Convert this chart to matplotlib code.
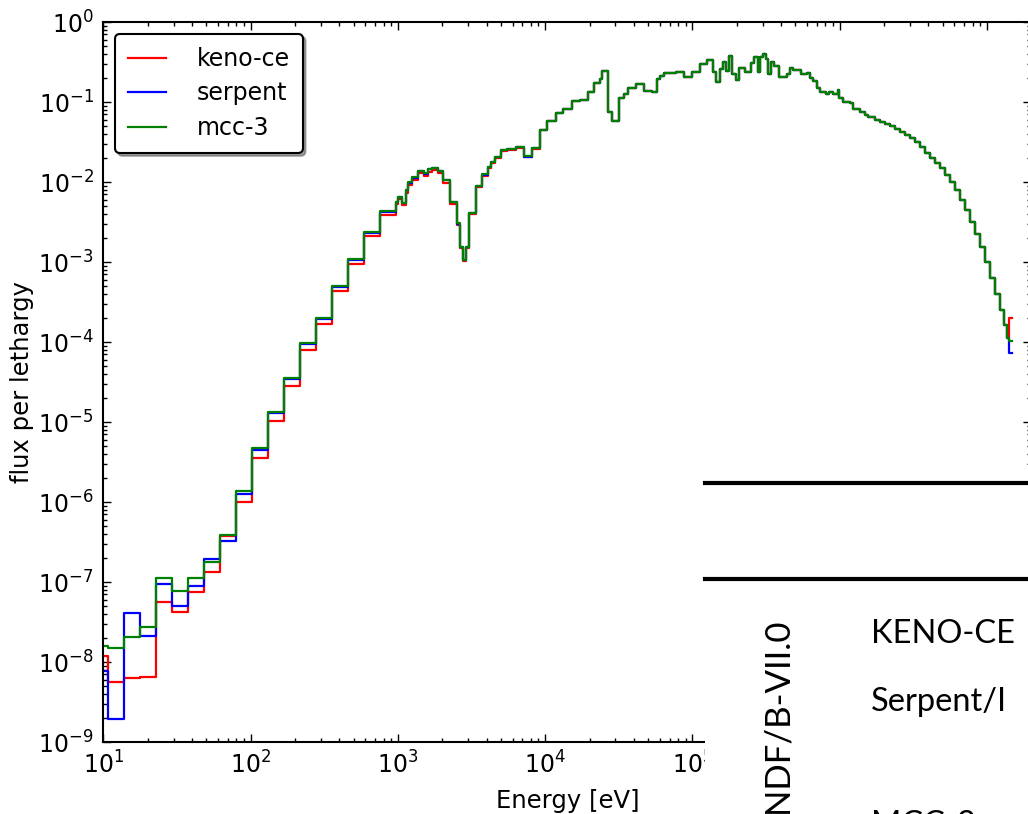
import numpy as np
import matplotlib
matplotlib.use("Agg")
import matplotlib.pyplot as plt

# group edges [eV] and flux per lethargy for the three codes
low_edges = [10.0, 10.74, 13.79, 17.70, 22.73, 29.18, 37.47, 48.1, 61.8, 79.3,
             101.8, 130.8, 167.9, 215.6, 276.8, 355.4, 456.3, 585.9, 752.3, 966.0]
keno_low = [1.19e-8, 5.6e-9, 6.25e-9, 6.5e-9, 5.7e-8, 4.18e-8, 7.4e-8, 1.33e-7, 3.8e-7,
            9.9e-7, 3.52e-6, 1.03e-5, 2.82e-5, 7.94e-5, 1.68e-4, 4.3e-4, 9.4e-4, 2.11e-3, 3.87e-3]
serpent_low = [7.7e-9, 1.92e-9, 4.06e-8, 2.11e-8, 9.5e-8, 5.06e-8, 8.8e-8, 1.96e-7, 3.29e-7,
               1.26e-6, 4.43e-6, 1.28e-5, 3.4e-5, 9.5e-5, 1.94e-4, 4.9e-4, 1.06e-3, 2.33e-3, 4.25e-3]
mcc3_low = [1.6e-8, 1.5e-8, 2.07e-8, 2.74e-8, 1.11e-7, 7.8e-8, 1.11e-7, 1.8e-7, 3.83e-7,
            1.37e-6, 4.69e-6, 1.32e-5, 3.52e-5, 9.8e-5, 1.98e-4, 5.0e-4, 1.09e-3, 2.37e-3, 4.3e-3]

res_edges = [966.0, 1006, 1061, 1130, 1176, 1241, 1376, 1511, 1609, 1697, 1863, 2033, 2258,
             2507, 2640, 2780, 2900, 3052, 3390, 3706, 4071, 4266, 4563, 5011, 5531, 6306,
             7179, 8095, 9219]
keno_res = [5.25e-3, 6.05e-3, 5.1e-3, 7.35e-3, 9.15e-3, 1.06e-2, 1.28e-2, 1.19e-2, 1.34e-2,
            1.4e-2, 1.28e-2, 9.8e-3, 5.25e-3, 2.93e-3, 1.49e-3, 1.02e-3, 1.49e-3, 3.95e-3,
            8.55e-3, 1.2e-2, 1.49e-2, 1.72e-2, 1.99e-2, 2.41e-2, 2.49e-2, 2.66e-2, 2.04e-2, 2.6e-2]
serpent_res = [5.6e-3, 6.5e-3, 5.45e-3, 7.85e-3, 9.8e-3, 1.13e-2, 1.37e-2, 1.27e-2, 1.44e-2,
               1.5e-2, 1.37e-2, 1.05e-2, 5.6e-3, 3.0e-3, 1.53e-3, 1.05e-3, 1.53e-3, 4.1e-3,
               8.85e-3, 1.24e-2, 1.54e-2, 1.78e-2, 2.06e-2, 2.5e-2, 2.58e-2, 2.75e-2, 2.05e-2, 2.67e-2]
mcc3_res = [5.67e-3, 6.55e-3, 5.51e-3, 7.94e-3, 9.91e-3, 1.145e-2, 1.385e-2, 1.285e-2, 1.45e-2,
            1.51e-2, 1.385e-2, 1.06e-2, 5.67e-3, 3.05e-3, 1.55e-3, 1.06e-3, 1.55e-3, 4.13e-3,
            8.91e-3, 1.25e-2, 1.55e-2, 1.79e-2, 2.07e-2, 2.51e-2, 2.59e-2, 2.76e-2, 2.11e-2, 2.68e-2]

# above ~10 keV the three codes overlap
fast_edges = [9219, 10330, 11840, 13270, 15130, 17230, 19440, 21540, 23550, 24420, 26570,
              28280, 31850, 34440, 36320, 41340, 46860, 52840, 57150, 60170, 64050, 77260,
              87560, 99690, 112400, 124900, 137100, 144400, 153700, 160300, 168800, 176900,
              186300, 196500, 206900, 227200, 249500, 262700, 277100, 287300, 299700, 315500,
              324000, 341200, 359200, 388500, 436100, 459200, 483500, 545400, 596300, 627900,
              661000, 697200, 734100, 806000, 848700, 894900, 972300, 995300, 1.056e6, 1.173e6,
              1.235e6, 1.371e6, 1.483e6, 1.561e6, 1.734e6, 1.875e6, 2.027e6, 2.192e6, 2.370e6,
              2.563e6, 2.771e6, 2.997e6, 3.240e6, 3.504e6, 3.789e6, 4.097e6, 4.430e6, 4.790e6,
              5.180e6, 5.601e6, 6.056e6, 6.549e6, 7.081e6, 7.657e6, 8.280e6, 8.953e6, 9.677e6,
              1.046e7, 1.131e7, 1.223e7, 1.302e7, 1.365e7, 1.419e7]
fast_flux = [4.47e-2, 5.79e-2, 7.22e-2, 8.11e-2, 0.103, 0.106, 0.1345, 0.171, 0.194, 0.244,
             0.0756, 0.0579, 0.111, 0.125, 0.148, 0.168, 0.138, 0.132, 0.192, 0.211, 0.229,
             0.235, 0.204, 0.235, 0.296, 0.335, 0.235, 0.176, 0.256, 0.319, 0.246, 0.376,
             0.222, 0.188, 0.264, 0.239, 0.305, 0.368, 0.239, 0.368, 0.395, 0.342, 0.222,
             0.319, 0.284, 0.204, 0.222, 0.268, 0.251, 0.222, 0.229, 0.201, 0.183, 0.151,
             0.132, 0.126, 0.132, 0.126, 0.141, 0.111, 0.101, 0.0964, 0.0818, 0.0756, 0.0688,
             0.0644, 0.0596, 0.0562, 0.0531, 0.0501, 0.046, 0.0422, 0.0387, 0.0355, 0.0316,
             0.027, 0.023, 0.02, 0.0173, 0.015, 0.0122, 0.01, 0.00794, 0.00596, 0.00447,
             0.00316, 0.00224, 0.00154, 0.001, 0.00063, 0.000398, 0.000251, 0.000163, 0.000112]

tail_edge = 1.476e7
keno_tail = 2.0e-4
serpent_tail = 7.3e-5
mcc3_tail = 1.03e-4

labels = ["keno-ce", "serpent", "mcc-3"]
colors = ["#ff0000", "#0000ff", "#008000"]


def build(low, res, tail):
    edges = low_edges + res_edges[1:] + fast_edges[1:] + [tail_edge]
    vals = low + res + fast_flux + [tail]
    return np.array(edges), np.append(vals, vals[-1])


series = [build(keno_low, keno_res, keno_tail),
          build(serpent_low, serpent_res, serpent_tail),
          build(mcc3_low, mcc3_res, mcc3_tail)]

W, H = 1028, 814
fig = plt.figure(figsize=(W / 100, H / 100), dpi=100)
ax = fig.add_axes([103.3 / W, 72 / H, 928.1 / W, 720 / H])

for (e, v), lab, c in zip(series, labels, colors):
    ax.step(e, v, where="post", color=c, lw=1.6, label=lab)

ax.set_xscale("log")
ax.set_yscale("log")
ax.set_xlim(10, 2e7)
ax.set_ylim(1e-9, 1)
ax.tick_params(which="both", direction="in", top=True, right=True, labelsize=17, width=1)
ax.tick_params(which="major", length=5.6, pad=7)
ax.tick_params(which="minor", length=2.8)
for s in ax.spines.values():
    s.set_linewidth(1.5)
ax.set_xlabel("Energy [eV]", fontsize=17.5, labelpad=7)
ax.set_ylabel("flux per lethargy", fontsize=17.5, labelpad=3)

leg = ax.legend(loc="upper left", fontsize=17, fancybox=True, shadow=True,
                handlelength=1.6, handletextpad=1.3, labelspacing=0.45, borderpad=0.55)
leg.get_frame().set_edgecolor("black")
leg.get_frame().set_linewidth(1.5)

# slide table laid over the lower right corner
ov = fig.add_axes([0, 0, 1, 1], zorder=5)
ov.set_xlim(0, W)
ov.set_ylim(H, 0)
ov.axis("off")
ov.add_patch(plt.Rectangle((705, 465), W - 705, H - 465, facecolor="white", edgecolor="none"))
ov.plot([705, W], [483, 483], color="black", lw=3)
ov.plot([705, W], [579, 579], color="black", lw=3)
ov.text(777, 617, "ENDF/B-VII.0", rotation=90, ha="center", va="top",
        fontsize=25, family="Lato")
ov.text(871, 643, "KENO-CE", ha="left", va="baseline", fontsize=23.5, family="Lato")
ov.text(871, 711, "Serpent/I", ha="left", va="baseline", fontsize=23.5, family="Lato")
ov.text(871, 834, "MCC-3", ha="left", va="baseline", fontsize=23.5, family="Lato")

fig.savefig("out.png", dpi=100)
